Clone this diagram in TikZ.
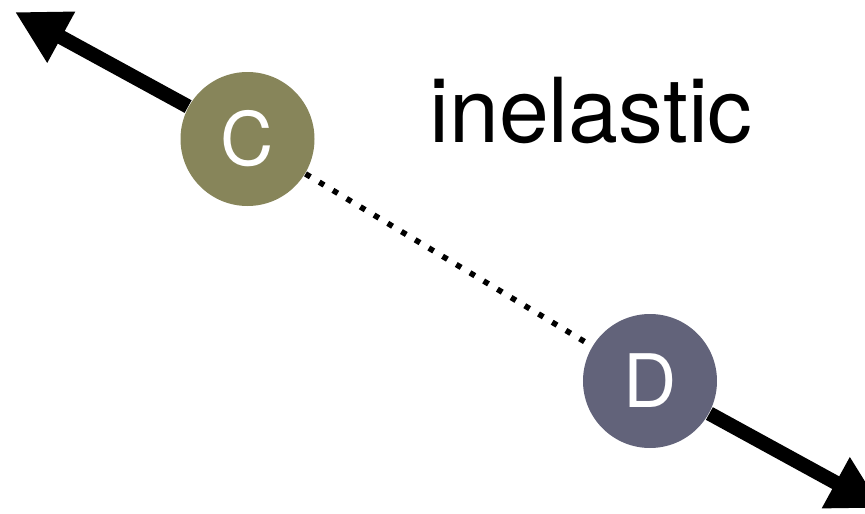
\documentclass[tikz,border=0pt]{standalone}
\usepackage{fontspec}
\setmainfont{TeX Gyre Heros}
\usetikzlibrary{arrows.meta}
\definecolor{ballC}{RGB}{135,133,90}
\definecolor{ballD}{RGB}{98,99,122}
\tikzset{
  ball/.style={circle,minimum size=1.34cm,inner sep=0pt,text=white,font=\fontsize{21}{21}\selectfont},
  motion/.style={line width=4.1pt,-{Triangle[length=15pt,width=15.5pt]}},
  bond/.style={line width=1.6pt,dash pattern=on 1.6pt off 2.95pt}
}
\begin{document}
\begin{tikzpicture}
      \useasboundingbox (0,0) rectangle (8.65,5.13);
      \coordinate (tipC) at (0.15,5.01);
      \coordinate (tipD) at (8.82,0.05);

      \node[ball,fill=ballC] (C) at (2.475,3.74) {C};
      \node[ball,fill=ballD] (D) at (6.50,1.32) {D};
      \node[anchor=base,font=\fontsize{25.5}{25.5}\selectfont] (label) at (5.91,3.71) {inelastic};

      \draw[bond] (C) -- (D);
      \draw[motion] (C) -- (tipC);
      \draw[motion] (D) -- (tipD);
    \end{tikzpicture}
\end{document}
